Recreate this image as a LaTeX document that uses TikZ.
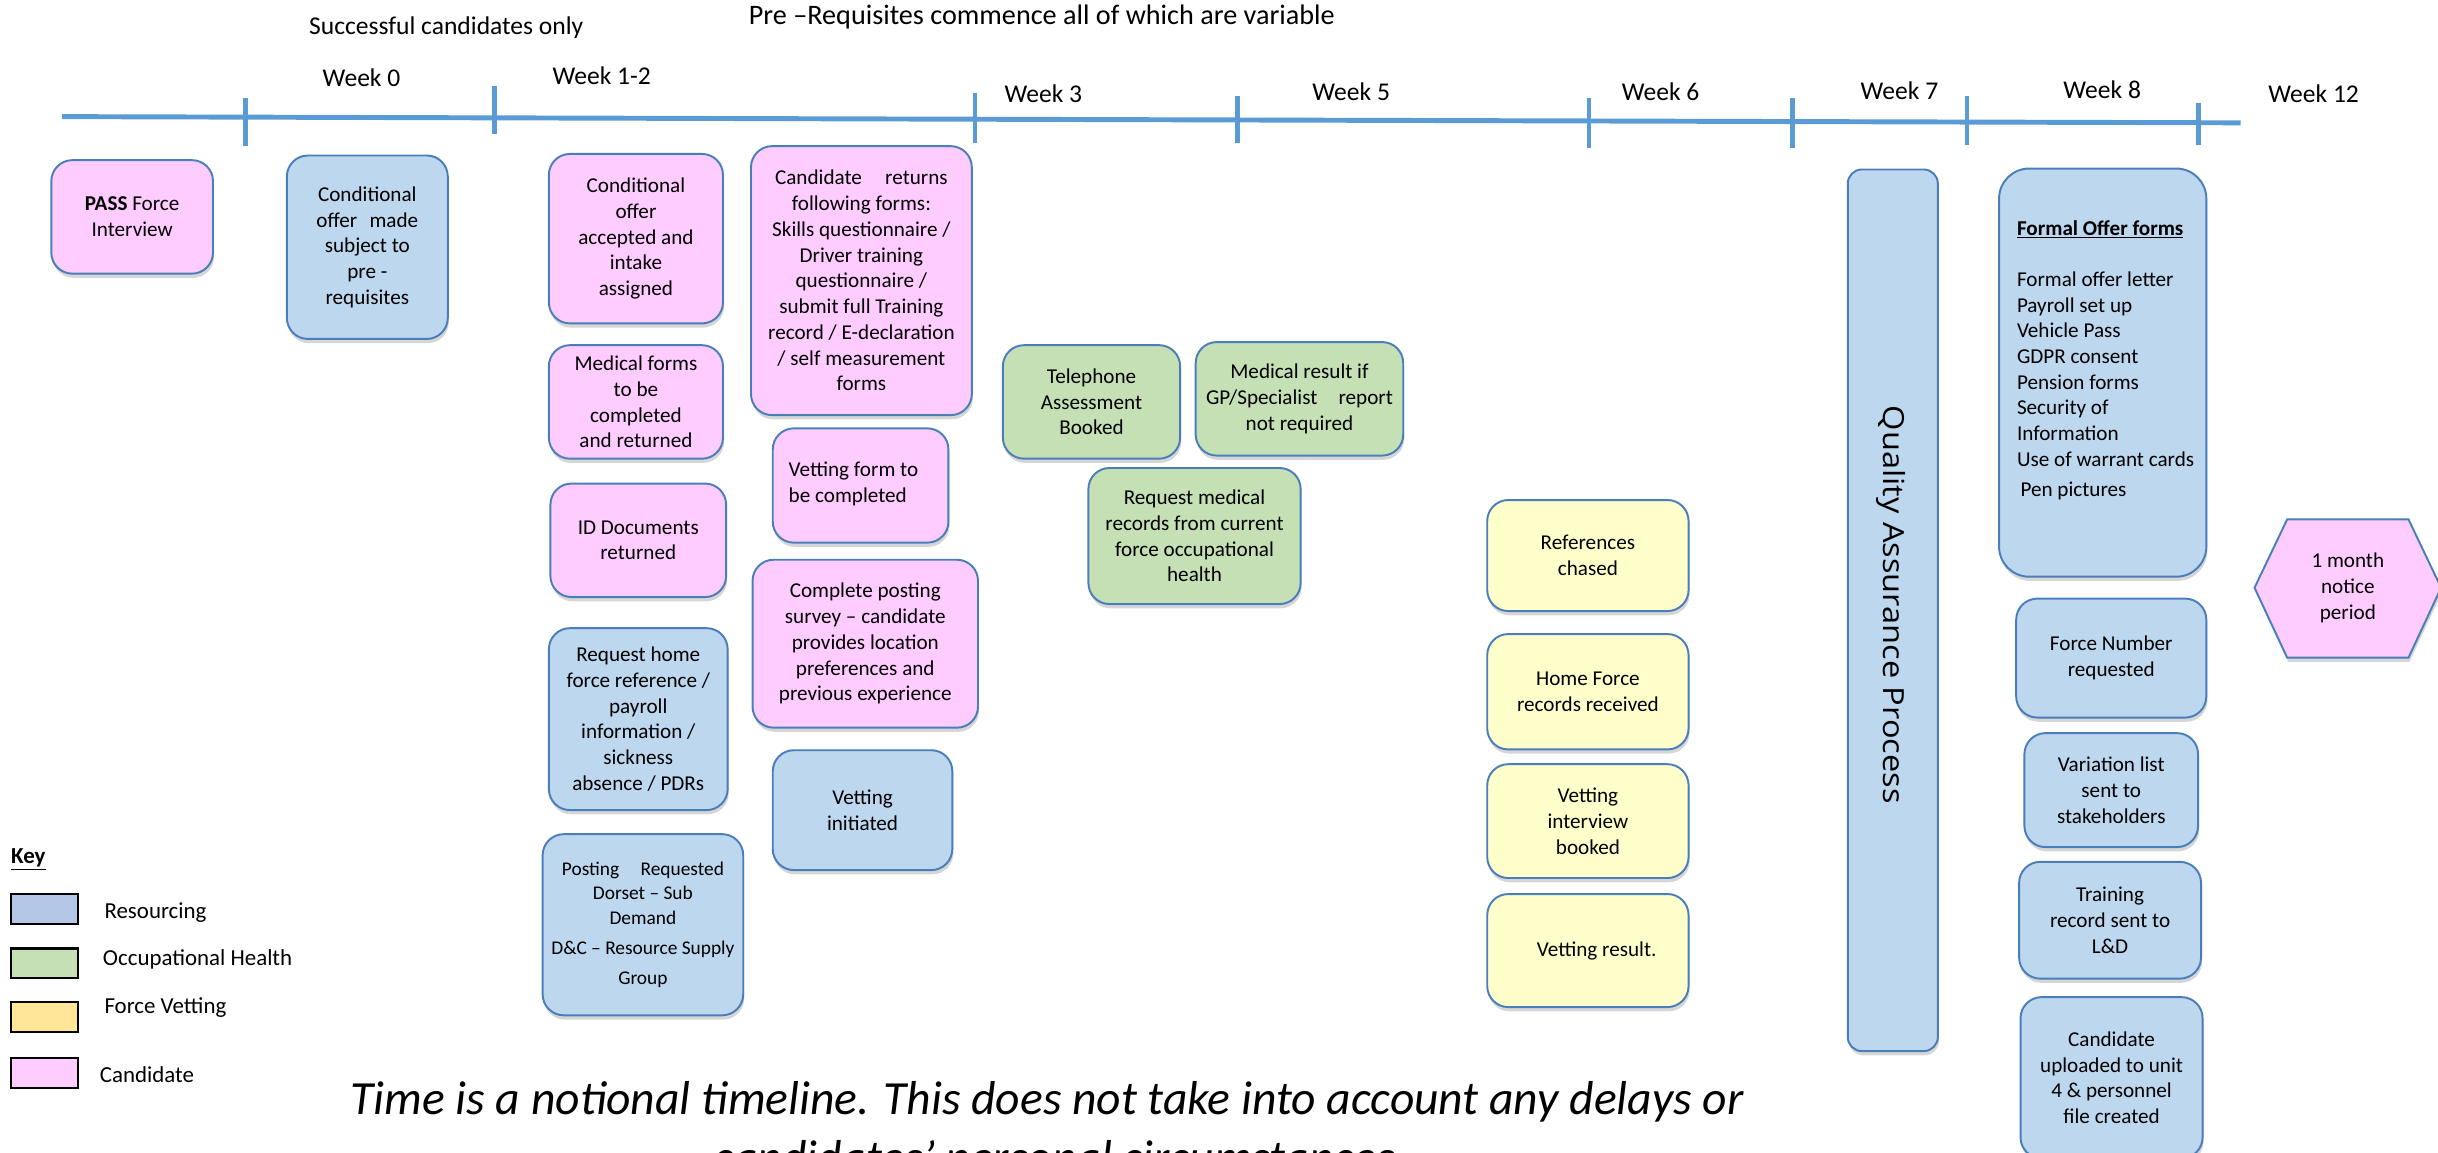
\documentclass[tikz,border=0pt]{standalone}
\usepackage{fontspec}
\setmainfont{Carlito}
\newfontfamily\qafont[FakeStretch=1.12]{Open Sans}
\usetikzlibrary{shadows}
\definecolor{bxblue}{HTML}{BDD7EE}
\definecolor{bxpink}{HTML}{FFCCFF}
\definecolor{bxgreen}{HTML}{C5E0B4}
\definecolor{bxyellow}{HTML}{FFFFCC}
\definecolor{bxline}{HTML}{4A7EBB}
\definecolor{tlblue}{HTML}{5B9BD5}
\definecolor{keyblue}{HTML}{B4C7E7}
\definecolor{keygreen}{HTML}{C5E0B4}
\definecolor{keyyellow}{HTML}{FFE699}
\definecolor{keypink}{HTML}{FFCCFF}
\tikzset{
  myshadow/.style={drop shadow={shadow xshift=0.6pt,shadow yshift=-2.4pt,opacity=0.16,fill=black}},
  bx/.style={draw=bxline,line width=1.1pt,rounded corners=0.42cm,align=center,inner sep=0pt,
    font=\fontsize{12}{14.6}\selectfont,myshadow},
  tl/.style={draw=tlblue,line width=2.8pt},
  tick/.style={draw=tlblue,line width=2.6pt},
  hdr/.style={font=\fontsize{14.5}{17}\selectfont,inner sep=0pt},
  keybox/.style={draw=black,line width=1.2pt,minimum width=1.333cm,minimum height=0.589cm,inner sep=0pt},
  keylbl/.style={font=\fontsize{13}{15}\selectfont,anchor=west,inner sep=0pt},
  foot/.style={font=\itshape\fontsize{27}{32}\selectfont,anchor=base,inner sep=0pt},
}
\newcommand\bxnode[8][]{\node[bx,#3,minimum width={(#6-#4)*0.031cm},minimum height={(#7-#5)*0.031cm},#1] (#2) at ({(#4+#6)/2},{(#5+#7)/2}) {#8};}
\begin{document}
\begin{tikzpicture}[x=0.031cm,y=-0.031cm]
\useasboundingbox (0,0) rectangle (1568,741);
% header texts
\node[hdr] (succ) at (287,18) {Successful candidates only};
\node[hdr,font=\fontsize{16}{19}\selectfont] (prereq) at (670,11) {Pre –Requisites commence all of which are variable};
% timeline
\draw[tl] (40,75) -- (1441,79);
\foreach \tx/\ta/\tb in {158/63/94, 318/55/86, 627/60/92, 796/62/92, 1022/63/95, 1153/63/95, 1265/62/93, 1414/66/93}
  \draw[tick] (\tx,\ta) -- (\tx,\tb);
\node[hdr] (w0) at (232.5,50) {Week 0};
\node[hdr] (w12a) at (387,49) {Week 1-2};
\node[hdr] (w3) at (671,60) {Week 3};
\node[hdr] (w5) at (869,59) {Week 5};
\node[hdr] (w6) at (1068,59) {Week 6};
\node[hdr] (w7) at (1221.6,58.6) {Week 7};
\node[hdr] (w8) at (1352,58) {Week 8};
\node[hdr] (w12) at (1488,60) {Week 12};
% column 1
\bxnode{pass}{fill=bxpink}{33}{103}{137}{176}{\textbf{PASS} Force\\Interview}
\bxnode{cond}{fill=bxblue}{184.5}{100}{288}{218}{Conditional\\offer\hspace{0.35em} made\\subject to\\pre -\\requisites}
% column 2
\bxnode{accept}{fill=bxpink}{353}{99}{465}{208}{Conditional\\offer\\accepted and\\intake\\assigned}
\bxnode{medf}{fill=bxpink}{353}{222}{465}{295}{Medical forms\\to be\\completed\\and returned}
\bxnode{iddoc}{fill=bxpink}{354}{311}{467}{384}{ID Documents\\returned}
\bxnode{homeref}{fill=bxblue}{353}{404}{468}{521}{Request home\\force reference /\\payroll\\information /\\sickness\\absence / PDRs}
\bxnode[font=\fontsize{11}{13.8}\selectfont]{posting}{fill=bxblue}{349}{536.5}{478}{653}{Posting\hspace{1.1em}Requested\\Dorset – Sub\\Demand\\[3.5pt]D\&C – Resource Supply\\[3pt]Group}
% column 3
\bxnode{returns}{fill=bxpink}{483}{94}{625}{267}{Candidate\hspace{1.1em}returns\\following forms:\\Skills questionnaire /\\Driver training\\questionnaire /\\submit full Training\\record / E-declaration\\/ self measurement\\forms}
\bxnode{vetform}{fill=bxpink}{497}{275.5}{610}{349}{}
\node[font=\fontsize{12}{14.6}\selectfont,align=left,anchor=west,inner sep=0pt] (vetformt) at (507,311) {Vetting form to\\be completed};
\bxnode{survey}{fill=bxpink}{484}{360}{629}{468}{Complete posting\\survey – candidate\\provides location\\preferences and\\previous experience}
\bxnode{vetinit}{fill=bxblue}{497}{482.5}{612.5}{559.6}{Vetting\\initiated}
% occupational health
\bxnode{tel}{fill=bxgreen}{645}{222}{759}{295}{Telephone\\Assessment\\Booked}
\bxnode{medres}{fill=bxgreen}{769}{220}{902.5}{293}{Medical result if\\GP/Specialist\hspace{1em}report\\not required}
\bxnode{medrec}{fill=bxgreen}{700}{301}{836.5}{388.5}{Request medical\\records from current\\force occupational\\health}
% force vetting
\bxnode{refs}{fill=bxyellow}{956.5}{321.6}{1086}{393}{References\\chased}
\bxnode{homerec}{fill=bxyellow}{956.5}{407.8}{1086}{482}{Home Force\\records received}
\bxnode{vetint}{fill=bxyellow}{956.5}{491.5}{1086}{564.7}{Vetting\\interview\\booked}
\bxnode{vetres}{fill=bxyellow}{956.5}{575}{1086}{647.7}{\hspace{10pt}Vetting result.}
% quality assurance
\bxnode[rounded corners=0.28cm]{qa}{fill=bxblue}{1188.4}{109}{1246.3}{676}{}
\node[rotate=-90,inner sep=0pt,font=\qafont\fontsize{16.5}{19}\selectfont] (qat) at (1216,389) {Quality Assurance Process};
% week 8 column
\bxnode[rounded corners=0.6cm]{formal}{fill=bxblue}{1285.7}{108.4}{1419}{370.9}{}
\node[font=\fontsize{12}{14.6}\selectfont,align=left,anchor=north west,inner sep=0pt] (formalt) at (1297,141.5) {\textbf{\underline{Formal Offer forms}}\\[14.4pt]Formal offer letter\\Payroll set up\\Vehicle Pass\\GDPR consent\\Pension forms\\Security of\\Information\\Use of warrant cards\\[2.5pt]\hspace{2pt}Pen pictures};
\bxnode{forcenum}{fill=bxblue}{1296.7}{385}{1419}{461.5}{Force Number\\requested}
\bxnode{variation}{fill=bxblue}{1302}{471.5}{1413.7}{544.8}{Variation list\\sent to\\stakeholders}
\bxnode{training}{fill=bxblue}{1298.6}{554.3}{1415.6}{629.4}{Training\\record sent to\\L\&D}
\bxnode{uploaded}{fill=bxblue}{1299.5}{641.3}{1416.6}{745}{Candidate\\uploaded to unit\\4 \& personnel\\file created}
% notice period hexagon
\draw[draw=bxline,line width=1.1pt,fill=bxpink,myshadow] (1450,378) -- (1471,334) -- (1549,334) -- (1570,378) -- (1549,423) -- (1471,423) -- cycle;
\node[font=\fontsize{12}{14.6}\selectfont,align=center,inner sep=0pt] (notice) at (1510,378) {1 month\\notice\\period};
% key
\node[font=\fontsize{13}{15}\selectfont\bfseries,anchor=west,inner sep=0pt] (key) at (7,553) {\underline{Key}};
\node[keybox,fill=keyblue] (k1) at (28.5,584.5) {};
\node[keybox,fill=keygreen] (k2) at (28.5,619.5) {};
\node[keybox,fill=keyyellow] (k3) at (28.5,654) {};
\node[keybox,fill=keypink] (k4) at (28.5,690) {};
\node[keylbl] (l1) at (67,587) {Resourcing};
\node[keylbl] (l2) at (66,617) {Occupational Health};
\node[keylbl] (l3) at (67,648) {Force Vetting};
\node[keylbl] (l4) at (64,691) {Candidate};
% footer
\node[foot] (note1) at (673.5,716.5) {Time is a notional timeline. This does not take into account any delays or};
\node[foot] (note2) at (678,755) {candidates' personal circumstances};
\end{tikzpicture}
\end{document}
